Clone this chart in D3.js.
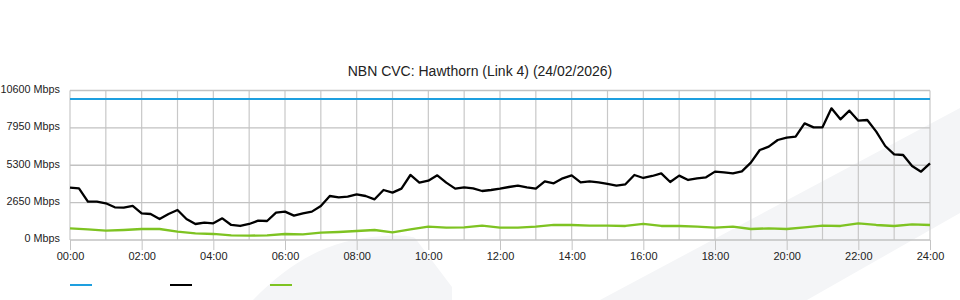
<!DOCTYPE html>
<html>
<head>
<meta charset="utf-8">
<script src="https://cdn.jsdelivr.net/npm/d3@7"></script>
<style>
    body { margin: 0; background: #fff; }
    text { font-family: "Liberation Sans", Arial, sans-serif; }
</style>
</head>
<body>
<div id="my_dataviz"></div>
<script>

// data, black every 15 min, green every 30 min
var title = "NBN CVC: Hawthorn (Link 4) (24/02/2026)";
var yTicks = [0, 2650, 5300, 7950, 10600];
var xTickLabels = ["00:00", "02:00", "04:00", "06:00", "08:00", "10:00", "12:00",
    "14:00", "16:00", "18:00", "20:00", "22:00", "24:00"];

var capacityHours = [0, 24];
var capacity = [10000, 10000];

var download = [
    3711, 3664, 2719, 2719,
    2601, 2317, 2294, 2412,
    1892, 1845, 1490, 1845,
    2128, 1490, 1135, 1230,
    1183, 1537, 1065, 994,
    1135, 1372, 1348, 1939,
    2010, 1727, 1892, 2010,
    2412, 3120, 3026, 3073,
    3239, 3120, 2884, 3546,
    3357, 3641, 4609, 4066,
    4208, 4586, 4066, 3641,
    3735, 3664, 3475, 3546,
    3640, 3758, 3853, 3735,
    3641, 4161, 4019, 4373,
    4586, 4090, 4161, 4090,
    3971, 3853, 3948, 4609,
    4397, 4538, 4728, 4113,
    4562, 4255, 4373, 4444,
    4846, 4798, 4728, 4869,
    5484, 6382, 6618, 7091,
    7256, 7327, 8272, 7988,
    7988, 9335, 8555, 9170,
    8461, 8508, 7681, 6665,
    6074, 6027, 5247, 4846,
    5437
];

var upload = [
    829, 758, 663, 710, 781, 780, 592, 474, 427, 332, 309, 332,
    426, 402, 520, 567, 638, 709, 544, 756, 946, 875, 900, 1017,
    876, 876, 947, 1065, 1065, 1018, 1018, 994, 1136, 994, 994, 947,
    876, 947, 780, 829, 781, 900, 1018, 994, 1183, 1065, 994, 1112,
    1065
];

var legendColors = ["#1e9fdf", "#000000", "#7ec322"];

var svg = d3.select("#my_dataviz")
    .append("svg")
    .attr("width", 960)
    .attr("height", 300);

// faint logo shapes in the background
svg.append("path")
    .attr("d", "M600,300 L960,108 L960,213 L807,300 Z")
    .attr("fill", "#f4f5f7");
svg.append("path")
    .attr("d", "M253,300 C290,262 330,238 385,236 C400,235 410,236 415,238 L452,287 L452,300 Z")
    .attr("fill", "#f4f5f7");

var x = d3.scaleLinear()
    .domain([0, 24])
    .range([70, 930]);

var y = d3.scaleLinear()
    .domain([0, 10600])
    .range([240, 90.5]);

// grid, one line per hour
svg.append("g")
    .selectAll("line")
    .data(d3.range(0, 25))
    .enter().append("line")
    .attr("x1", function(d) { return x(d); })
    .attr("x2", function(d) { return x(d); })
    .attr("y1", y(10600))
    .attr("y2", y(0))
    .attr("stroke", "#c8c8c8")
    .attr("stroke-width", 1.2);

svg.append("g")
    .selectAll("line")
    .data(yTicks)
    .enter().append("line")
    .attr("x1", x(0))
    .attr("x2", x(24))
    .attr("y1", function(d) { return y(d); })
    .attr("y2", function(d) { return y(d); })
    .attr("stroke", "#c2c2c2")
    .attr("stroke-width", 1.4);

// X axis
var xAxis = svg.append("g")
    .attr("transform", "translate(0," + y(0) + ")")
    .call(d3.axisBottom(x)
        .tickValues(d3.range(0, 25, 2))
        .tickSize(10)
        .tickFormat(function(d, i) { return xTickLabels[i]; }));
xAxis.select(".domain").remove();
xAxis.selectAll(".tick line").attr("stroke", "#c4c4c4");
xAxis.selectAll("text")
    .attr("y", 12)
    .attr("fill", "#222")
    .style("font-size", "11px");

// Y axis labels
var yAxis = svg.append("g")
    .attr("transform", "translate(60,0)")
    .call(d3.axisLeft(y)
        .tickValues(yTicks)
        .tickSize(0)
        .tickFormat(function(d) { return d + " Mbps"; }));
yAxis.select(".domain").remove();
yAxis.selectAll("text")
    .attr("x", 0)
    .attr("dy", "0.18em")
    .attr("fill", "#222")
    .style("font-size", "10.8px");

// title
svg.append("text")
    .attr("x", 480)
    .attr("y", 76)
    .attr("text-anchor", "middle")
    .attr("fill", "#222")
    .style("font-size", "14px")
    .text(title);

// lines
var line = d3.line()
    .x(function(d) { return x(d[0]); })
    .y(function(d) { return y(d[1]); });

svg.append("path")
    .datum(capacity.map(function(v, i) { return [capacityHours[i], v]; }))
    .attr("fill", "none")
    .attr("stroke", legendColors[0])
    .attr("stroke-width", 2)
    .attr("d", line);

svg.append("path")
    .datum(upload.map(function(v, i) { return [i * 0.5, v]; }))
    .attr("fill", "none")
    .attr("stroke", legendColors[2])
    .attr("stroke-width", 2.3)
    .attr("stroke-linejoin", "round")
    .attr("d", line);

svg.append("path")
    .datum(download.map(function(v, i) { return [i * 0.25, v]; }))
    .attr("fill", "none")
    .attr("stroke", legendColors[1])
    .attr("stroke-width", 2.3)
    .attr("stroke-linejoin", "round")
    .attr("d", line);

// legend, swatches only
svg.append("g")
    .selectAll("line")
    .data(legendColors)
    .enter().append("line")
    .attr("x1", function(d, i) { return 70 + i * 100; })
    .attr("x2", function(d, i) { return 92 + i * 100; })
    .attr("y1", 285)
    .attr("y2", 285)
    .attr("stroke", function(d) { return d; })
    .attr("stroke-width", 2);

</script>
</body>
</html>
